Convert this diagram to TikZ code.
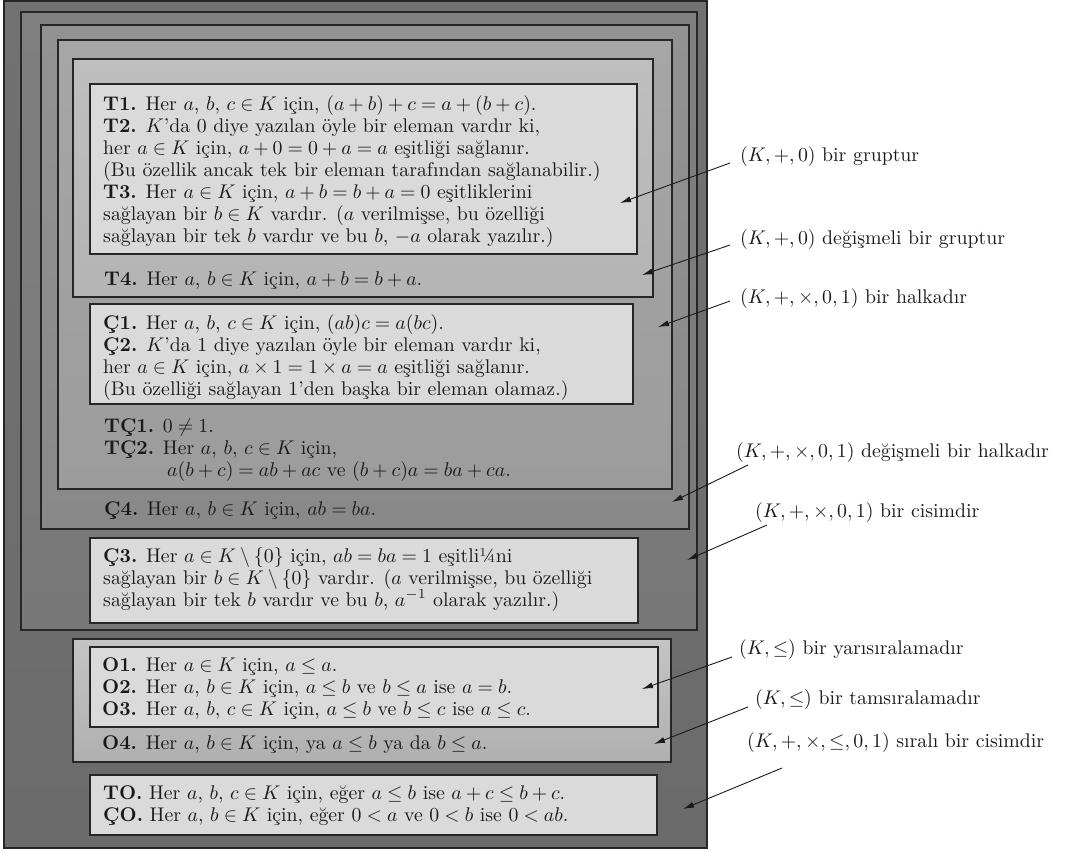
\RequirePackage{fix-cm}
\documentclass[tikz,border=0pt]{standalone}
\usetikzlibrary{arrows.meta}

\definecolor{edge}{HTML}{262626}
\definecolor{ink}{HTML}{1A1A1A}
\definecolor{paneltop}{HTML}{DADADA}
\definecolor{shadeAt}{HTML}{727272}\definecolor{shadeAb}{HTML}{6B6B6B}
\definecolor{shadeBt}{HTML}{808080}\definecolor{shadeBb}{HTML}{787878}
\definecolor{shadeCt}{HTML}{929292}\definecolor{shadeCb}{HTML}{898989}
\definecolor{shadeDt}{HTML}{A6A6A6}\definecolor{shadeDb}{HTML}{9C9C9C}
\definecolor{shadeEt}{HTML}{BFBFBF}\definecolor{shadeEb}{HTML}{B4B4B4}
\definecolor{shadeOt}{HTML}{C4C4C4}\definecolor{shadeOb}{HTML}{B0B0B0}

% text is set at its 10pt design size and enlarged
\newcommand{\enl}[1]{\scalebox{1.98}{#1}}
\newcommand{\axline}[3]{\node[txt] (#1) at #2 {\enl{#3}};}
\newcommand{\tightmath}{\medmuskip=3.6mu\relax\thickmuskip=4.6mu\relax}

\begin{document}
\begin{tikzpicture}[x=1pt,y=-1pt,
  frame/.style={draw=edge, line width=1.3pt},
  panel/.style={frame, fill=paneltop},
  txt/.style={anchor=base west, inner sep=0pt, text=ink,
              font=\fontsize{10}{12}\selectfont\tightmath},
  lab/.style={anchor=west, inner sep=0pt, text=ink,
              font=\fontsize{10}{12}\selectfont\tightmath},
  arr/.style={draw=ink, line width=0.9pt, -{Latex[length=11pt,width=6pt]}}]

\fill[white] (0,0) rectangle (1081,851);
\useasboundingbox (0,0) rectangle (1081,851);

% nested structure frames, outermost first
\draw[frame, top color=shadeAt, bottom color=shadeAb] (4,1) rectangle (707,848);
\draw[frame, top color=shadeBt, bottom color=shadeBb] (21,12) rectangle (697,630);
\draw[frame, top color=shadeCt, bottom color=shadeCb] (41,25) rectangle (689,529);
\draw[frame, top color=shadeDt, bottom color=shadeDb] (58,40) rectangle (672,489);
\draw[frame, top color=shadeEt, bottom color=shadeEb] (73,59) rectangle (653,297);
\draw[panel] (90,84) rectangle (637,254);
\draw[panel] (90,304) rectangle (633,404);
\draw[panel] (90,538) rectangle (638,623);
\draw[frame, top color=shadeOt, bottom color=shadeOb] (73,639) rectangle (671,762);
\draw[panel] (90,647) rectangle (658,727);
\draw[panel] (90,775) rectangle (657,835);

% addition axioms
\axline{t1}{(103,110)}{\textbf{T1.} Her $a$, $b$, $c \in K$ için, $(a + b) + c = a + (b + c)$.}
\axline{t2}{(103,132)}{\textbf{T2.} $K$’da 0 diye yazılan öyle bir eleman vardır ki,}
\axline{t2b}{(103,154)}{her $a \in K$ için, $a + 0 = 0 + a = a$ eşitliği sağlanır.}
\axline{t2c}{(103,176)}{(Bu özellik ancak tek bir eleman tarafından sağlanabilir.)}
\axline{t3}{(103,198)}{\textbf{T3.} Her $a \in K$ için, $a + b = b + a = 0$ eşitliklerini}
\axline{t3b}{(103,220)}{sağlayan bir $b \in K$ vardır. ($a$ verilmişse, bu özelliği}
\axline{t3c}{(103,242)}{sağlayan bir tek $b$ vardır ve bu $b$, $-a$ olarak yazılır.)}
\axline{t4}{(104,285)}{\textbf{T4.} Her $a$, $b \in K$ için, $a + b = b + a$.}

% multiplication axioms
\axline{c1}{(103,329)}{\textbf{Ç1.} Her $a$, $b$, $c \in K$ için, $(ab)c = a(bc)$.}
\axline{c2}{(103,351)}{\textbf{Ç2.} $K$’da 1 diye yazılan öyle bir eleman vardır ki,}
\axline{c2b}{(103,373)}{her $a \in K$ için, $a \times 1 = 1 \times a = a$ eşitliği sağlanır.}
\axline{c2c}{(103,395)}{(Bu özelliği sağlayan 1’den başka bir eleman olamaz.)}
\axline{tc1}{(104,432)}{\textbf{TÇ1.} $0 \neq 1$.}
\axline{tc2}{(104,454)}{\textbf{TÇ2.} Her $a$, $b$, $c \in K$ için,}
\axline{tc2b}{(167,476)}{$a(b + c) = ab + ac$ ve $(b + c)a = ba + ca$.}
\axline{c4}{(104,515)}{\textbf{Ç4.} Her $a$, $b \in K$ için, $ab = ba$.}
\axline{c3}{(103,562)}{\textbf{Ç3.} Her $a \in K \setminus \{0\}$ için, $ab = ba = 1$ eşitli¼ni}
\axline{c3b}{(103,584)}{sağlayan bir $b \in K \setminus \{0\}$ vardır. ($a$ verilmişse, bu özelliği}
\axline{c3c}{(103,606)}{sağlayan bir tek $b$ vardır ve bu $b$, $a^{-1}$ olarak yazılır.)}

% order axioms
\axline{o1}{(102,671)}{\textbf{O1.} Her $a \in K$ için, $a \leq a$.}
\axline{o2}{(102,693)}{\textbf{O2.} Her $a$, $b \in K$ için, $a \leq b$ ve $b \leq a$ ise $a = b$.}
\axline{o3}{(102,715)}{\textbf{O3.} Her $a$, $b$, $c \in K$ için, $a \leq b$ ve $b \leq c$ ise $a \leq c$.}
\axline{o4}{(102,749)}{\textbf{O4.} Her $a$, $b \in K$ için, ya $a \leq b$ ya da $b \leq a$.}
\axline{to}{(103,799)}{\textbf{TO.} Her $a$, $b$, $c \in K$ için, eğer $a \leq b$ ise $a + c \leq b + c$.}
\axline{co}{(103,821)}{\textbf{ÇO.} Her $a$, $b \in K$ için, eğer $0 < a$ ve $0 < b$ ise $0 < ab$.}

% structure names
\node[lab] (l1) at (740,157) {\enl{$(K, +, 0)$ bir gruptur}};
\node[lab] (l2) at (740,240) {\enl{$(K, +, 0)$ değişmeli bir gruptur}};
\node[lab] (l3) at (740,299) {\enl{$(K, +, \times, 0, 1)$ bir halkadır}};
\node[lab] (l4) at (736,453) {\enl{$(K, +, \times, 0, 1)$ değişmeli bir halkadır}};
\node[lab] (l5) at (755,513) {\enl{$(K, +, \times, 0, 1)$ bir cisimdir}};
\node[lab] (l6) at (739,650) {\enl{$(K, \leq)$ bir yarısıralamadır}};
\node[lab] (l7) at (755,700) {\enl{$(K, \leq)$ bir tamsıralamadır}};
\node[lab] (l8) at (747,743) {\enl{$(K, +, \times, \leq, 0, 1)$ sıralı bir cisimdir}};

% arrow targets inside the frames
\coordinate (g1) at (620,203);
\coordinate (g2) at (642,275);
\coordinate (g3) at (658,327);
\coordinate (g4) at (672,502);
\coordinate (g5) at (687,560);
\coordinate (g6) at (642,689);
\coordinate (g7) at (654,744);
\coordinate (g8) at (683,809);

\draw[arr] ([shift={(-10,6)}]l1.west) -- (g1);
\draw[arr] ([shift={(-10,5)}]l2.west) -- (g2);
\draw[arr] ([shift={(-10,2)}]l3.west) -- (g3);
\draw[arr] ([shift={(12,12)}]l4.west) -- (g4);
\draw[arr] ([shift={(12,12)}]l5.west) -- (g5);
\draw[arr] ([shift={(-7,7)}]l6.west) -- (g6);
\draw[arr] ([shift={(-7,7)}]l7.west) -- (g7);
\draw[arr] ([shift={(35,25)}]l8.west) -- (g8);
\end{tikzpicture}
\end{document}
